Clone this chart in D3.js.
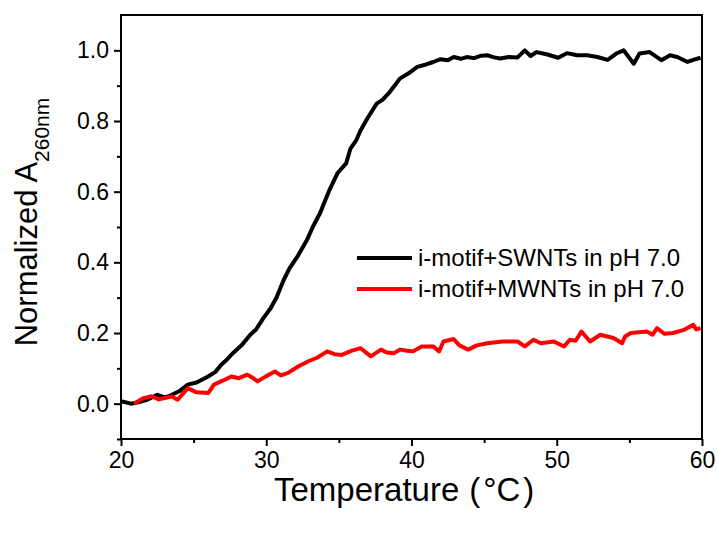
<!DOCTYPE html>
<html>
<head>
<meta charset="utf-8">
<script src="https://cdn.jsdelivr.net/npm/d3@7"></script>
<style>
  body { margin: 0; background: #fff; }
  svg text { font-family: "Liberation Sans", Arial, sans-serif; fill: #000; }
  .tick line { stroke: #000; stroke-width: 2; }
  .tick text { font-size: 23px; }
</style>
</head>
<body>
<div id="chart"></div>
<script>
// Data
const swntTemp = [20.0, 20.7, 21.3, 21.8, 22.5, 23.0, 23.4, 24.0, 24.6, 25.2, 26.0, 26.5, 26.9, 27.3, 27.7, 28.3, 28.9, 29.3, 29.8, 30.3,
    30.7, 31.2, 31.6, 32.2, 32.8, 33.2, 33.7, 34.3, 34.9, 35.5, 35.8, 36.2, 36.5, 37.0, 37.6, 38.0, 38.5, 39.2, 39.8, 40.4,
    41.0, 41.5, 42.0, 42.5, 42.9, 43.4, 43.8, 44.3, 44.8, 45.2, 45.7, 46.1, 46.7, 47.3, 47.8, 48.2, 48.6, 49.3, 50.1, 50.7,
    51.4, 52.1, 52.8, 53.5, 54.1, 54.6, 54.9, 55.3, 55.7, 56.4, 57.2, 57.8, 58.3, 59.0, 59.4, 59.9];
const swntAbs = [0.007, 0.0, 0.005, 0.011, 0.025, 0.018, 0.023, 0.035, 0.054, 0.06, 0.077, 0.09, 0.11, 0.125, 0.143, 0.165, 0.195, 0.21, 0.242, 0.27,
    0.30, 0.35, 0.383, 0.42, 0.463, 0.50, 0.539, 0.60, 0.652, 0.68, 0.722, 0.746, 0.774, 0.81, 0.849, 0.86, 0.882, 0.92, 0.935, 0.953,
    0.96, 0.967, 0.975, 0.972, 0.981, 0.976, 0.981, 0.978, 0.985, 0.986, 0.98, 0.977, 0.981, 0.98, 1.0, 0.984, 0.995, 0.989, 0.979, 0.992,
    0.986, 0.986, 0.981, 0.973, 0.991, 1.0, 0.984, 0.962, 0.991, 0.995, 0.972, 0.986, 0.981, 0.967, 0.973, 0.979];

const mwntTemp = [20.9, 21.5, 22.1, 22.6, 23.0, 23.5, 23.9, 24.3, 24.6, 25.2, 26.0, 26.4, 27.0, 27.6, 28.1, 28.7, 29.0, 29.4, 30.0, 30.6,
    31.0, 31.5, 32.2, 32.9, 33.5, 34.2, 34.7, 35.2, 35.9, 36.5, 37.2, 37.9, 38.3, 38.8, 39.2, 39.7, 40.1, 40.7, 41.5, 41.9,
    42.2, 42.9, 43.3, 43.9, 44.5, 45.2, 46.3, 47.3, 47.8, 48.4, 48.9, 49.8, 50.5, 50.9, 51.3, 51.7, 52.3, 53.0, 53.9, 54.5,
    54.7, 55.1, 56.2, 56.6, 56.9, 57.4, 58.0, 58.7, 59.4, 59.6, 59.9];
const mwntAbs = [0.0, 0.015, 0.021, 0.012, 0.016, 0.02, 0.011, 0.03, 0.044, 0.032, 0.03, 0.054, 0.065, 0.077, 0.072, 0.082, 0.075, 0.063, 0.078, 0.091,
    0.08, 0.087, 0.105, 0.12, 0.13, 0.148, 0.14, 0.138, 0.15, 0.157, 0.134, 0.153, 0.145, 0.143, 0.153, 0.15, 0.148, 0.162, 0.162, 0.148,
    0.176, 0.183, 0.165, 0.153, 0.165, 0.171, 0.176, 0.176, 0.162, 0.181, 0.171, 0.176, 0.162, 0.181, 0.178, 0.204, 0.176, 0.195, 0.186, 0.171,
    0.19, 0.2, 0.204, 0.195, 0.214, 0.198, 0.2, 0.208, 0.223, 0.21, 0.214];

const xTicks = [20, 30, 40, 50, 60];
const xMinor = [25, 35, 45, 55];
const yTicks = [0.0, 0.2, 0.4, 0.6, 0.8, 1.0];
const yMinor = [-0.1, 0.1, 0.3, 0.5, 0.7, 0.9];
const seriesNames = ["i-motif+SWNTs in pH 7.0", "i-motif+MWNTs in pH 7.0"];
const seriesColors = ["#000000", "#ff0000"];

const margin = { top: 15, right: 16, bottom: 97, left: 121 };
const W = 718, H = 536;
const width = W - margin.left - margin.right;
const height = H - margin.top - margin.bottom;

const svg = d3.select("#chart")
    .append("svg")
    .attr("width", W)
    .attr("height", H)
    .append("g")
    .attr("transform", `translate(${margin.left},${margin.top})`);

const x = d3.scaleLinear().domain([20, 60]).range([0, width]);
const y = d3.scaleLinear().domain([-0.1, 1.1]).range([height, 0]);

// minor ticks
svg.append("g")
    .attr("transform", `translate(0,${height})`)
    .call(d3.axisBottom(x).tickValues(xMinor).tickSize(4).tickFormat(""))
    .call(g => g.select(".domain").remove());
svg.append("g")
    .call(d3.axisLeft(y).tickValues(yMinor).tickSize(4).tickFormat(""))
    .call(g => g.select(".domain").remove());

// major ticks
svg.append("g")
    .attr("transform", `translate(0,${height})`)
    .call(d3.axisBottom(x).tickValues(xTicks).tickSize(7).tickPadding(6).tickFormat(d3.format("d")))
    .call(g => g.select(".domain").remove());
svg.append("g")
    .call(d3.axisLeft(y).tickValues(yTicks).tickSize(7).tickPadding(5).tickFormat(d3.format(".1f")))
    .call(g => g.select(".domain").remove());

// lines
const line = d3.line()
    .x(d => x(d[0]))
    .y(d => y(d[1]));

const series = [
    d3.zip(swntTemp, swntAbs),
    d3.zip(mwntTemp, mwntAbs)
];

svg.selectAll(".series")
    .data(series)
    .enter()
    .append("path")
    .attr("class", "series")
    .attr("d", line)
    .attr("fill", "none")
    .attr("stroke", (d, i) => seriesColors[i])
    .attr("stroke-width", 4)
    .attr("stroke-linejoin", "round");

// frame
svg.append("rect")
    .attr("width", width)
    .attr("height", height)
    .attr("fill", "none")
    .attr("stroke", "#000")
    .attr("stroke-width", 2);

// legend
const legend = svg.selectAll(".legend")
    .data(seriesNames)
    .enter()
    .append("g")
    .attr("class", "legend")
    .attr("transform", (d, i) => `translate(236,${243 + i * 31})`);

legend.append("line")
    .attr("x1", 0)
    .attr("x2", 55)
    .attr("stroke", (d, i) => seriesColors[i])
    .attr("stroke-width", 4);

legend.append("text")
    .attr("x", 61)
    .attr("y", 8)
    .style("font-size", "24px")
    .text(d => d);

// axis titles
const xTitle = svg.append("text")
    .attr("x", 153)
    .attr("y", height + 62)
    .style("font-size", "33px");
xTitle.append("tspan").text("Temperature");
xTitle.append("tspan").attr("dx", 10).text("(");
xTitle.append("tspan").attr("dx", 3).text("\u00B0C");
xTitle.append("tspan").attr("dx", 3).text(")");

const yTitle = svg.append("text")
    .attr("transform", `translate(-84,${height / 2 - 5}) rotate(-90)`)
    .attr("text-anchor", "middle")
    .style("font-size", "31px");
yTitle.append("tspan").text("Normalized A");
yTitle.append("tspan")
    .attr("dy", 12)
    .style("font-size", "21px")
    .text("260nm");
</script>
</body>
</html>
